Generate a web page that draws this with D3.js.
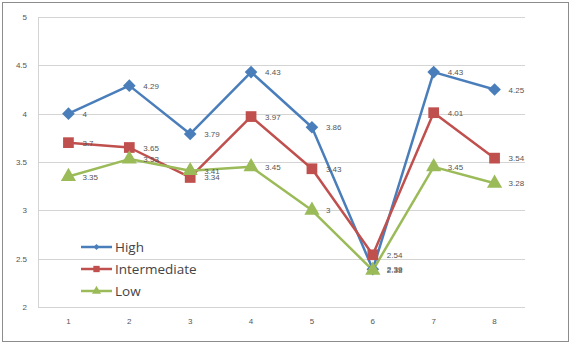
<!DOCTYPE html>
<html><head><meta charset="utf-8">
<script src="https://cdn.jsdelivr.net/npm/d3@7"></script>
<style>body{margin:0;background:#fff}svg{display:block}</style>
</head><body>
<script>
const categories = ["1","2","3","4","5","6","7","8"];
const high = [4, 4.29, 3.79, 4.43, 3.86, 2.39, 4.43, 4.25];
const intermediate = [3.7, 3.65, 3.34, 3.97, 3.43, 2.54, 4.01, 3.54];
const low = [3.35, 3.53, 3.41, 3.45, 3, 2.38, 3.45, 3.28];
const yTicks = [2, 2.5, 3, 3.5, 4, 4.5, 5];
const seriesNames = ["High", "Intermediate", "Low"];

const W = 581, H = 345;
const svg = d3.select("body").append("svg").attr("width", W).attr("height", H);
svg.append("rect").attr("x", 2.5).attr("y", 2.5).attr("width", 566).attr("height", 339)
  .attr("fill", "#fff").attr("stroke", "#8c8c8c").attr("stroke-width", 1);

const x = d3.scaleBand().domain(categories).range([38, 525]);
const y = d3.scaleLinear().domain([2, 5]).range([307, 17]);

svg.append("g").selectAll("line").data(yTicks).join("line")
  .attr("x1", 38).attr("x2", 525)
  .attr("y1", d => Math.round(y(d)) + 0.5).attr("y2", d => Math.round(y(d)) + 0.5)
  .attr("stroke", "#d4d4d4").attr("stroke-width", 1);
svg.append("line").attr("x1", 38.5).attr("x2", 38.5).attr("y1", y(5)).attr("y2", y(2))
  .attr("stroke", "#d4d4d4");

const yAxis = d3.axisLeft(y).tickValues(yTicks).tickSize(0).tickPadding(0).tickFormat(d => String(d));
const ga = svg.append("g").attr("transform", "translate(27,0)").call(yAxis);
ga.select(".domain").remove();
ga.selectAll("text").attr("font-family", "Liberation Sans, Arial, sans-serif").attr("font-size", 8).attr("fill", "#555");

const xAxis = d3.axisBottom(x).tickSize(0).tickPadding(0);
const gx = svg.append("g").attr("transform", "translate(0,318)").call(xAxis);
gx.select(".domain").remove();
gx.selectAll("text").attr("font-family", "Liberation Sans, Arial, sans-serif").attr("font-size", 8).attr("fill", "#555");

const diamond = {draw(ctx, size) { const r = Math.sqrt(size / 2); ctx.moveTo(0, -r); ctx.lineTo(r, 0); ctx.lineTo(0, r); ctx.lineTo(-r, 0); ctx.closePath(); }};

const series = [
  {name: "High", values: high, color: "#4A7EBB", shape: diamond, size: 80, lsize: 18},
  {name: "Intermediate", values: intermediate, color: "#C0504D", shape: d3.symbolSquare, size: 115, lsize: 40},
  {name: "Low", values: low, color: "#9BBB59", shape: d3.symbolTriangle, size: 100, lsize: 36}
];
const cx = c => x(c) + x.bandwidth() / 2;
const line = d3.line().x((d, i) => cx(categories[i])).y(d => y(d));

series.forEach(s => {
  svg.append("path").datum(s.values).attr("d", line)
    .attr("fill", "none").attr("stroke", s.color).attr("stroke-width", 2.5).attr("stroke-linejoin", "round");
});
series.forEach(s => {
  svg.append("g").selectAll("path").data(s.values).join("path")
    .attr("d", d3.symbol().type(s.shape).size(s.size))
    .attr("transform", (d, i) => `translate(${cx(categories[i])},${y(d)})`)
    .attr("fill", s.color);
});
series.forEach(s => {
  svg.append("g").selectAll("text").data(s.values).join("text")
    .attr("x", (d, i) => cx(categories[i]) + 14)
    .attr("y", d => y(d) + 3)
    .attr("font-family", "Liberation Sans, Arial, sans-serif").attr("font-size", 8).attr("fill", "#555")
    .text(d => String(d));
});

const lg = svg.append("g");
series.forEach((s, i) => {
  const ly = 247 + i * 22;
  lg.append("line").attr("x1", 81).attr("x2", 112).attr("y1", ly).attr("y2", ly)
    .attr("stroke", s.color).attr("stroke-width", 2.5);
  lg.append("path").attr("d", d3.symbol().type(s.shape).size(s.lsize)())
    .attr("transform", `translate(96.5,${ly})`).attr("fill", s.color);
  lg.append("text").attr("x", 115).attr("y", ly + 4.5)
    .attr("font-family", "Open Sans, sans-serif").attr("font-size", 13.5).attr("fill", "#444")
    .text(seriesNames[i]);
});
</script>
</body></html>
